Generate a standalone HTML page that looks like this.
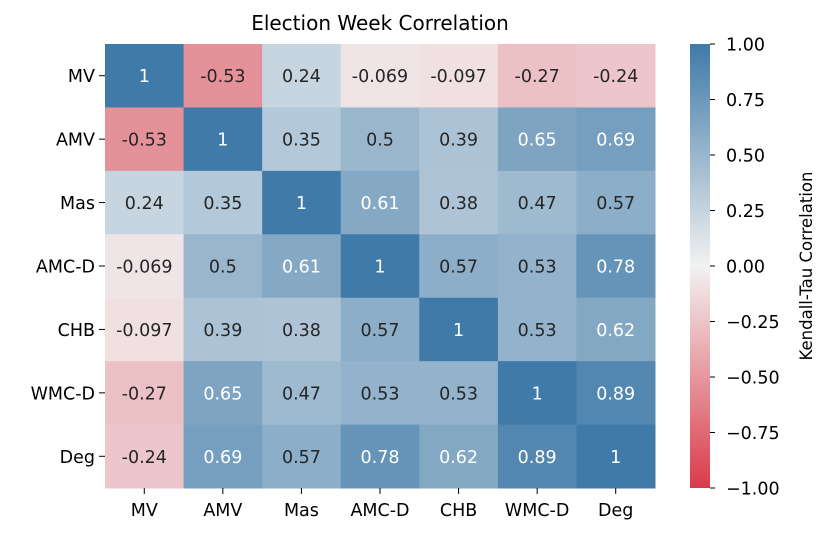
<!DOCTYPE html>
<html><head><meta charset="utf-8"><style>
body{margin:0;background:#fff;}
text{font-family:"DejaVu Sans","Liberation Sans",sans-serif;}
</style></head><body>
<svg id="chart" width="830" height="539" xmlns="http://www.w3.org/2000/svg">
<defs><linearGradient id="cb" x1="0" y1="1" x2="0" y2="0">
<stop offset="0" stop-color="#da3b4a"/><stop offset="0.5" stop-color="#f2f2f2"/><stop offset="1" stop-color="#3f7aa8"/>
</linearGradient></defs>
<text x="380" y="30" font-size="20" text-anchor="middle" fill="#000">Election Week Correlation</text>
<g id="cells"></g>
<rect x="690" y="44" width="20" height="444" fill="url(#cb)"/>
<g id="cbticks"></g>
<text transform="translate(812,266) rotate(-90)" font-size="16.5" text-anchor="middle">Kendall-Tau Correlation</text>
</svg>
<script>
const labels=["MV","AMV","Mas","AMC-D","CHB","WMC-D","Deg"];
const values=[
[1,-0.53,0.24,-0.069,-0.097,-0.27,-0.24],
[-0.53,1,0.35,0.5,0.39,0.65,0.69],
[0.24,0.35,1,0.61,0.38,0.47,0.57],
[-0.069,0.5,0.61,1,0.57,0.53,0.78],
[-0.097,0.39,0.38,0.57,1,0.53,0.62],
[-0.27,0.65,0.47,0.53,0.53,1,0.89],
[-0.24,0.69,0.57,0.78,0.62,0.89,1]];
const cbTicks=[1,0.75,0.5,0.25,0,-0.25,-0.5,-0.75,-1];
const X0=105,X1=655,Y0=44,Y1=488;
const n=labels.length,cw=(X1-X0)/n,ch=(Y1-Y0)/n;
const ns="http://www.w3.org/2000/svg";
function color(v){
  const c0=[242,242,242],cp=[63,122,168],cn=[218,59,74];
  const t=Math.min(1,Math.abs(v)),e=v>=0?cp:cn;
  return `rgb(${c0.map((c,i)=>Math.round(c+(e[i]-c)*t)).join(',')})`;
}
function el(tag,attrs,parent,txt){const e=document.createElementNS(ns,tag);for(const k in attrs)e.setAttribute(k,attrs[k]);if(txt!==undefined)e.textContent=txt;parent.appendChild(e);return e;}
const g=document.getElementById('cells');
values.forEach((row,r)=>row.forEach((v,c)=>{
  const rc=el('rect',{x:X0+c*cw,y:Y0+r*ch,width:cw+0.5,height:ch+0.5,fill:color(v)},g);
  
  
  const t=el('text',{x:X0+(c+0.5)*cw,y:Y0+(r+0.5)*ch+6.5,'font-size':17.5,'text-anchor':'middle',fill:v>=0.6?'#fff':'#262626'},g,String(v));
  
  
}));
labels.forEach((l,i)=>{
  el('line',{x1:X0-6,x2:X0,y1:Y0+(i+0.5)*ch,y2:Y0+(i+0.5)*ch,stroke:'#000'},g);
  const t=el('text',{x:X0-10,y:Y0+(i+0.5)*ch+6.5,'font-size':17.5,'text-anchor':'end'},g,l);
  
  
  el('line',{x1:X0+(i+0.5)*cw,x2:X0+(i+0.5)*cw,y1:Y1,y2:Y1+6,stroke:'#000'},g);
  const t2=el('text',{x:X0+(i+0.5)*cw,y:Y1+28,'font-size':17.5,'text-anchor':'middle'},g,l);
  
  
});
const cg=document.getElementById('cbticks');
cbTicks.forEach(v=>{
  const y=Y1-(v+1)/2*(Y1-Y0);
  el('line',{x1:710,x2:715,y1:y,y2:y,stroke:'#000'},cg);
  const t=el('text',{x:726,y:y+6.5,'font-size':17.5},cg,v<0?'\u2212'+Math.abs(v).toFixed(2):v.toFixed(2));
  
  
});
</script>
</body></html>
